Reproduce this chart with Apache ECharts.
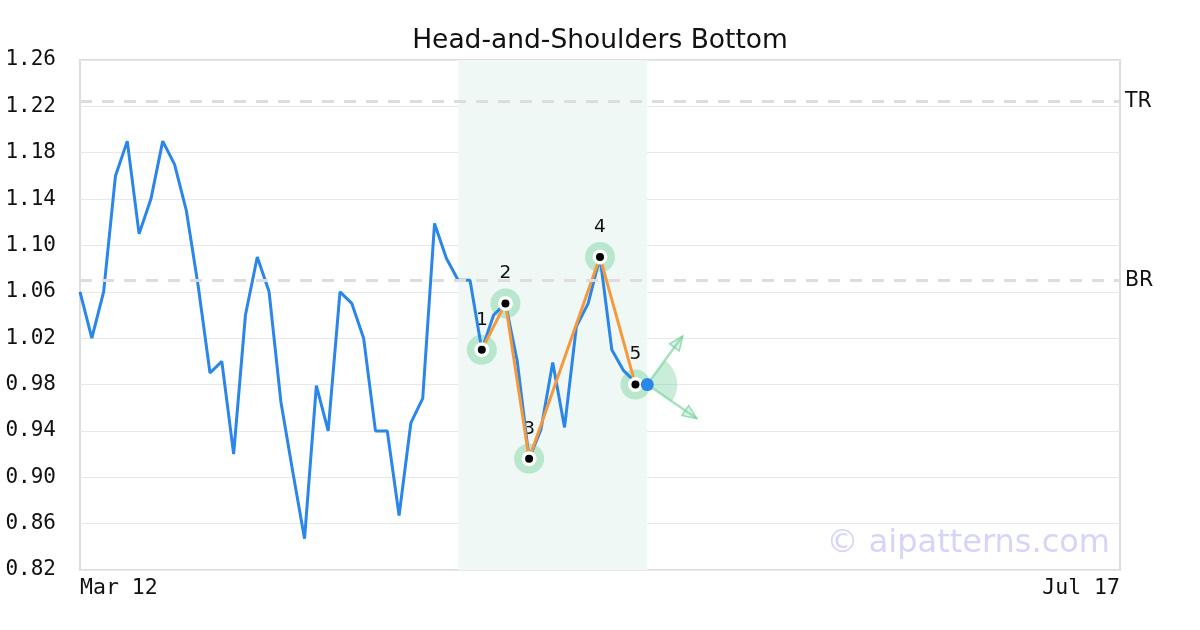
<!DOCTYPE html>
<html>
<head>
<meta charset="utf-8">
<title>Head-and-Shoulders Bottom</title>
<script src="https://cdn.jsdelivr.net/npm/echarts@6/dist/echarts.min.js"></script>
<style>
  html, body { margin: 0; padding: 0; background: #fff; }
  #chart { width: 1200px; height: 630px; }
</style>
</head>
<body>
<div id="chart"></div>
<script>
// closing prices, one per trading day starting Mar 12
const prices = [
  1.06, 1.02, 1.06, 1.16, 1.19, 1.11, 1.14, 1.19, 1.17, 1.13,
  1.065, 0.99, 1.00, 0.92, 1.04, 1.09, 1.06, 0.965, 0.905, 0.847,
  0.979, 0.94, 1.06, 1.05, 1.02, 0.94, 0.94, 0.867, 0.947, 0.968,
  1.119, 1.089, 1.07, 1.07, 1.01, 1.04, 1.05, 1.00, 0.916, 0.941,
  0.999, 0.943, 1.03, 1.05, 1.09, 1.01, 0.992, 0.982, 0.98
]
// pattern pivots 1..5
const pivotIdx = [34, 36, 38, 44, 47]
const pivotVal = [1.01, 1.05, 0.916, 1.09, 0.98]
const pivotNames = ['1', '2', '3', '4', '5']
// resistance levels
const levelNames = ['TR', 'BR']
const levelValues = [1.224, 1.07]
// pattern zone and breakout point
const zoneFrom = 32
const zoneTo = 48
const breakoutIdx = 48
const breakoutVal = 0.98
// y axis ticks
const yMin = 0.82
const yMax = 1.26
const yStep = 0.04

// trading days Mar 12 .. Jul 17 (weekends and market holidays skipped)
const holidays = ['3-29', '5-27', '7-4']
const monthNames = ['Jan', 'Feb', 'Mar', 'Apr', 'May', 'Jun', 'Jul', 'Aug', 'Sep', 'Oct', 'Nov', 'Dec']
const buildDates = function () {
  const out = []
  const d = new Date(2024, 2, 12)
  const end = new Date(2024, 6, 17)
  while (d <= end) {
    const key = (d.getMonth() + 1) + '-' + d.getDate()
    if (d.getDay() !== 0 && d.getDay() !== 6 && holidays.indexOf(key) < 0) {
      out.push(monthNames[d.getMonth()] + ' ' + d.getDate())
    }
    d.setDate(d.getDate() + 1)
  }
  return out
}
const dates = buildDates()

const BLUE = '#2a86e8'
const ORANGE = '#f5993c'
const GREEN = 'rgba(120, 210, 160, 0.45)'
const MONO = '"DejaVu Sans Mono", monospace'
const SANS = '"DejaVu Sans", sans-serif'

const pivotData = pivotIdx.map((x, i) => [x, pivotVal[i]])

// breakout fan: sector + two arrows around the last point
const arrowAngles = [-0.94, 0.60]
const renderBreakout = function (params, api) {
  const p = api.coord([api.value(0), api.value(1)])
  const children = [{
    type: 'sector',
    shape: { cx: p[0], cy: p[1], r0: 0, r: 30, startAngle: arrowAngles[0], endAngle: arrowAngles[1], clockwise: true },
    style: { fill: 'rgba(120, 210, 160, 0.4)' }
  }]
  arrowAngles.forEach(a => {
    const len = 60
    const head = 14
    const dx = Math.cos(a)
    const dy = Math.sin(a)
    const tx = p[0] + dx * len
    const ty = p[1] + dy * len
    const bx = p[0] + dx * (len - head)
    const by = p[1] + dy * (len - head)
    children.push({
      type: 'line',
      shape: { x1: p[0], y1: p[1], x2: tx, y2: ty },
      style: { stroke: 'rgba(120, 210, 160, 0.65)', lineWidth: 2.5 }
    })
    children.push({
      type: 'polygon',
      shape: {
        points: [
          [tx, ty],
          [bx - dy * 6, by + dx * 6],
          [bx + dy * 6, by - dx * 6]
        ]
      },
      style: { fill: 'rgba(120, 210, 160, 0.25)', stroke: 'rgba(120, 210, 160, 0.75)', lineWidth: 1.5 }
    })
  })
  return { type: 'group', children: children }
}

const chart = echarts.init(document.getElementById('chart'))
const option = {
  animation: false,
  backgroundColor: '#fff',
  title: {
    text: 'Head-and-Shoulders Bottom',
    left: 'center',
    top: 23,
    textStyle: { fontFamily: SANS, fontSize: 26.5, fontWeight: 'normal', color: '#111' }
  },
  grid: {
    left: 80,
    right: 80,
    top: 60,
    bottom: 60,
    show: true,
    borderColor: '#dddddd',
    borderWidth: 2,
    backgroundColor: 'transparent'
  },
  xAxis: {
    type: 'category',
    data: dates,
    boundaryGap: false,
    axisLine: { show: false },
    axisTick: { show: false },
    splitLine: { show: false },
    axisLabel: {
      interval: (i) => i === 0 || i === dates.length - 1,
      alignMinLabel: 'left',
      alignMaxLabel: 'right',
      fontFamily: MONO,
      fontSize: 21.5,
      color: '#111',
      margin: 7
    }
  },
  yAxis: {
    type: 'value',
    min: yMin,
    max: yMax,
    interval: yStep,
    axisLine: { show: false },
    axisTick: { show: false },
    splitLine: { lineStyle: { color: '#e8e8e8', width: 1 } },
    axisLabel: {
      fontFamily: MONO,
      fontSize: 21,
      color: '#111',
      margin: 24,
      formatter: (v) => v.toFixed(2)
    }
  },
  graphic: [{
    type: 'text',
    right: 90,
    top: 528,
    style: { text: '\u00a9 aipatterns.com', font: '32px ' + SANS, fill: '#d6d4fa' },
    z: 1
  }],
  series: [
    {
      name: 'price',
      type: 'line',
      data: prices,
      symbol: 'none',
      z: 3,
      lineStyle: { color: BLUE, width: 3 },
      markArea: {
        silent: true,
        itemStyle: { color: '#eff8f4' },
        data: [[{ xAxis: dates[zoneFrom] }, { xAxis: dates[zoneTo] }]]
      },
      markLine: {
        silent: true,
        symbol: 'none',
        precision: 4,
        lineStyle: { color: '#dddddd', width: 3, type: [12, 10] },
        label: {
          position: 'end',
          distance: 5,
          formatter: '{b}',
          fontFamily: SANS,
          fontSize: 20.5,
          color: '#111'
        },
        data: levelNames.map((n, i) => ({ name: n, yAxis: levelValues[i] }))
      }
    },
    {
      name: 'halo',
      type: 'scatter',
      data: pivotData,
      symbolSize: 30,
      z: 2,
      itemStyle: { color: GREEN, opacity: 1 },
      label: {
        show: true,
        position: 'inside',
        offset: [0, -30],
        formatter: (p) => pivotNames[p.dataIndex],
        fontFamily: SANS,
        fontSize: 18.5,
        color: '#111'
      }
    },
    {
      name: 'pattern',
      type: 'line',
      data: pivotData,
      symbol: 'none',
      z: 4,
      lineStyle: { color: ORANGE, width: 3 }
    },
    {
      name: 'fan',
      type: 'custom',
      data: [[breakoutIdx, breakoutVal]],
      renderItem: renderBreakout,
      z: 5
    },
    {
      name: 'ring',
      type: 'scatter',
      data: pivotData,
      symbolSize: 15,
      z: 6,
      itemStyle: { color: '#fff', opacity: 1 }
    },
    {
      name: 'dot',
      type: 'scatter',
      data: pivotData,
      symbolSize: 8,
      z: 7,
      itemStyle: { color: '#000', opacity: 1 }
    },
    {
      name: 'breakout',
      type: 'scatter',
      data: [[breakoutIdx, breakoutVal]],
      symbolSize: 13,
      z: 8,
      itemStyle: { color: BLUE, opacity: 1 }
    }
  ]
}
chart.setOption(option)
</script>
</body>
</html>
